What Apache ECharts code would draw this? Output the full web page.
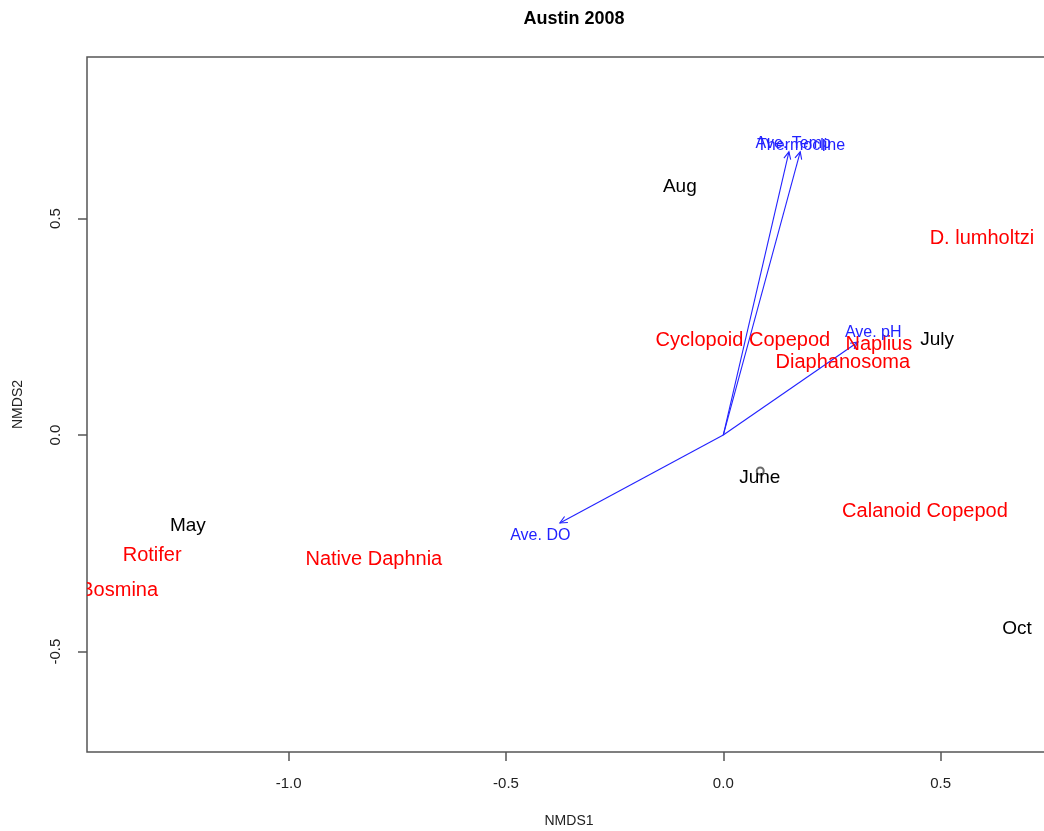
<!DOCTYPE html>
<html>
<head>
<meta charset="utf-8">
<title>Austin 2008</title>
<script src="https://cdn.jsdelivr.net/npm/echarts@6/dist/echarts.min.js"></script>
<style>
  html, body { margin: 0; padding: 0; background: #fff; overflow: hidden; }
  #chart { width: 1044px; height: 831px; }
</style>
</head>
<body>
<div id="chart"></div>
<script>
// NMDS ordination scores
const siteNames = ['Aug', 'July', 'June', 'May', 'Oct'];
const siteX = [-0.100, 0.492, 0.084, -1.232, 0.676];
const siteY = [0.574, 0.220, -0.098, -0.210, -0.448];

// the single visible site point symbol
const sitePointX = [0.085];
const sitePointY = [-0.083];

const speciesNames = ['D. lumholtzi', 'Cyclopoid Copepod', 'Naplius', 'Diaphanosoma',
  'Calanoid Copepod', 'Native Daphnia', 'Rotifer', 'Bosmina'];
const speciesX = [0.595, 0.045, 0.358, 0.275, 0.464, -0.804, -1.314, -1.390];
const speciesY = [0.454, 0.219, 0.209, 0.168, -0.176, -0.287, -0.278, -0.359];

// environmental fit vectors (arrow tips) and their labels
const envNames = ['Ave. Temp', 'Thermocline', 'Ave. pH', 'Ave. DO'];
const envArrowX = [0.151, 0.177, 0.310, -0.376];
const envArrowY = [0.654, 0.654, 0.215, -0.203];
const envLabelX = [0.161, 0.179, 0.345, -0.421];
const envLabelY = [0.672, 0.668, 0.236, -0.232];

// axis ticks
const xTicks = [-1.0, -0.5, 0.0, 0.5];
const yTicks = [-0.5, 0.0, 0.5];

const FONT = "'Liberation Sans', Arial, sans-serif";

function textSeries(names, xs, ys, color, size) {
  return {
    type: 'custom',
    coordinateSystem: 'cartesian2d',
    clip: true,
    silent: true,
    z: 5,
    data: xs.map((x, i) => [x, ys[i]]),
    renderItem: function (params, api) {
      const p = api.coord([api.value(0), api.value(1)]);
      return {
        type: 'text',
        x: p[0],
        y: p[1],
        style: {
          text: names[params.dataIndex],
          fill: color,
          font: size + 'px ' + FONT,
          align: 'center',
          verticalAlign: 'middle'
        }
      };
    }
  };
}

const arrowSeries = {
  type: 'custom',
  coordinateSystem: 'cartesian2d',
  clip: true,
  silent: true,
  z: 4,
  data: envArrowX.map((x, i) => [x, envArrowY[i]]),
  renderItem: function (params, api) {
    const p0 = api.coord([0, 0]);
    const p1 = api.coord([api.value(0), api.value(1)]);
    const ang = Math.atan2(p1[1] - p0[1], p1[0] - p0[0]);
    const hl = 8, ha = Math.PI / 7;
    const h1 = [p1[0] - hl * Math.cos(ang - ha), p1[1] - hl * Math.sin(ang - ha)];
    const h2 = [p1[0] - hl * Math.cos(ang + ha), p1[1] - hl * Math.sin(ang + ha)];
    const style = { stroke: '#2222ff', lineWidth: 1.1, fill: null };
    return {
      type: 'group',
      children: [
        { type: 'line', shape: { x1: p0[0], y1: p0[1], x2: p1[0], y2: p1[1] }, style: style },
        { type: 'polyline', shape: { points: [h1, p1, h2] }, style: style }
      ]
    };
  }
};

const chart = echarts.init(document.getElementById('chart'), null, { renderer: 'canvas' });

chart.setOption({
  backgroundColor: '#ffffff',
  animation: false,
  title: {
    text: 'Austin 2008',
    left: 569,
    top: 5,
    textAlign: 'center',
    textStyle: { fontFamily: FONT, fontSize: 18, fontWeight: 'bold', color: '#000' }
  },
  grid: {
    left: 87,
    top: 57,
    width: 964,
    height: 695,
    outerBoundsMode: 'none',
    containLabel: false,
    show: true,
    borderColor: '#555',
    borderWidth: 1.5,
    backgroundColor: 'transparent'
  },
  xAxis: {
    type: 'value',
    min: -1.464,
    max: 0.754,
    name: 'NMDS1',
    nameLocation: 'middle',
    nameGap: 62,
    nameTextStyle: { fontFamily: FONT, fontSize: 14, color: '#222' },
    axisLine: { show: false, onZero: false },
    splitLine: { show: false },
    axisTick: {
      show: true,
      length: 9,
      customValues: xTicks,
      lineStyle: { color: '#555', width: 1.5 }
    },
    axisLabel: {
      customValues: xTicks,
      margin: 24,
      fontFamily: FONT,
      fontSize: 15,
      color: '#222',
      formatter: v => v.toFixed(1)
    }
  },
  yAxis: {
    type: 'value',
    min: -0.732,
    max: 0.873,
    name: 'NMDS2',
    nameLocation: 'middle',
    nameGap: 62,
    nameRotate: 90,
    nameTextStyle: { fontFamily: FONT, fontSize: 14, color: '#222' },
    axisLine: { show: false, onZero: false },
    splitLine: { show: false },
    axisTick: {
      show: true,
      length: 9,
      customValues: yTicks,
      lineStyle: { color: '#555', width: 1.5 }
    },
    axisLabel: {
      customValues: yTicks,
      rotate: 90,
      margin: 24,
      fontFamily: FONT,
      fontSize: 15,
      color: '#222',
      formatter: v => v.toFixed(1)
    }
  },
  series: [
    arrowSeries,
    {
      type: 'scatter',
      data: sitePointX.map((x, i) => [x, sitePointY[i]]),
      symbol: 'emptyCircle',
      symbolSize: 7,
      itemStyle: { color: '#444', borderColor: '#444', borderWidth: 1 },
      silent: true,
      z: 3
    },
    textSeries(speciesNames, speciesX, speciesY, '#ff0000', 20),
    textSeries(siteNames, siteX, siteY, '#000000', 19),
    textSeries(envNames, envLabelX, envLabelY, '#2222ff', 16)
  ]
});
</script>
</body>
</html>
